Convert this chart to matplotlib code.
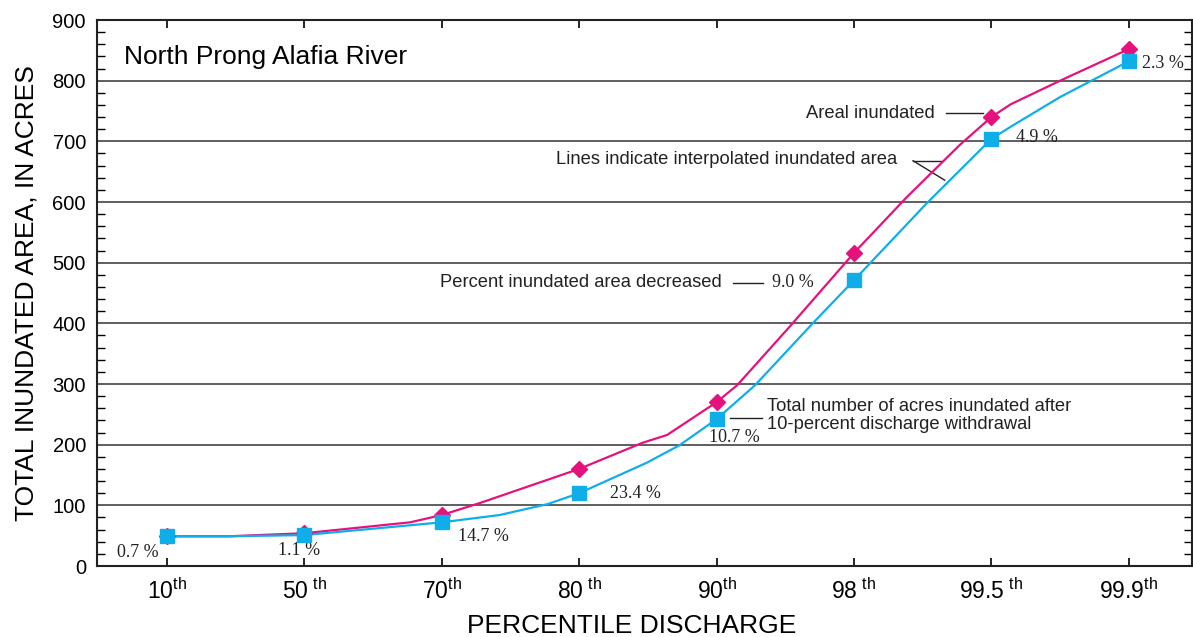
import matplotlib
matplotlib.use("Agg")
import matplotlib.pyplot as plt
from matplotlib.ticker import MultipleLocator

plt.rcParams['font.family'] = ['Liberation Sans', 'DejaVu Sans']
plt.rcParams['mathtext.fontset'] = 'custom'
plt.rcParams['mathtext.rm'] = 'Liberation Sans'

# ---- data ----
categories = ["10$^{\\rm th}$", "50$^{\\rm\\ th}$", "70$^{\\rm th}$", "80$^{\\rm\\ th}$",
              "90$^{\\rm th}$", "98$^{\\rm\\ th}$", "99.5$^{\\rm\\ th}$", "99.9$^{\\rm th}$"]
areal = [49, 54, 84, 160, 270, 516, 740, 852]
after = [49, 51, 72, 120, 242, 471, 704, 832]
pct_labels = ["0.7 %", "1.1 %", "14.7 %", "23.4 %", "10.7 %", "9.0 %", "4.9 %", "2.3 %"]

# interpolated curves (x in category-index units)
areal_curve_x = [0, 0.45, 1, 1.77, 2, 2.28, 3, 3.46, 3.64, 4, 4.15, 4.53, 5, 5.38, 5.77, 6, 6.14, 6.51, 7]
areal_curve_y = [49, 49, 54, 72, 84, 104, 160, 203, 216, 270, 298, 394, 516, 607, 694, 740, 761, 801, 852]
after_curve_x = [0, 0.45, 1, 2, 2.42, 2.77, 3, 3.49, 3.73, 4, 4.28, 4.70, 5, 5.53, 6, 6.14, 6.50, 7]
after_curve_y = [49, 49, 51, 72, 84, 102, 120, 170, 199, 242, 298, 400, 471, 598, 704, 724, 773, 832]

magenta = '#E5127D'
cyan = '#0FAEE8'

fig = plt.figure(figsize=(11.93, 6.37), dpi=100)
ax = fig.add_axes([97/1193, 1-566/637, (1192-97)/1193, (566-20)/637])

x = list(range(len(categories)))
ax.plot(areal_curve_x, areal_curve_y, color=magenta, lw=1.6, zorder=3)
ax.plot(after_curve_x, after_curve_y, color=cyan, lw=1.6, zorder=4)
ax.plot(x, areal, linestyle='none', marker='D', ms=8, color=magenta, zorder=5)
ax.plot(x, after, linestyle='none', marker='s', ms=9.5, color=cyan, zorder=6)

ax.set_xlim(-0.509, 7.46)
ax.set_ylim(0, 900)
ax.set_yticks(range(0, 901, 100))
ax.yaxis.set_minor_locator(MultipleLocator(20))
ax.set_xticks(x)
ax.set_xticklabels(categories, fontsize=16.5)
ax.tick_params(axis='y', labelsize=14.5, direction='in', length=0, pad=8)
ax.tick_params(axis='y', which='minor', direction='in', length=6, width=1, left=True, right=True)
ax.tick_params(axis='x', direction='in', length=6, width=1.2, top=True, bottom=True, pad=9)
for y in range(100, 900, 100):
    ax.axhline(y, color='#333333', lw=1.1, zorder=1)
for s in ax.spines.values():
    s.set_linewidth(1.5)
    s.set_color('#222222')

ax.set_ylabel("TOTAL INUNDATED AREA, IN ACRES", fontsize=19, labelpad=10)
ax.set_xlabel("PERCENTILE DISCHARGE", fontsize=19)
ax.xaxis.set_label_coords(0.488, -0.087)

ax.text(-0.31, 839, "North Prong Alafia River", fontsize=19, va='center', ha='left')

# percent labels
pct_pos = [(-0.21, 22, 'center'), (0.96, 26, 'center'), (2.3, 48, 'center'),
           (3.41, 120, 'center'), (4.13, 212, 'center'), (4.40, 467, 'left'),
           (6.33, 707, 'center'), (7.25, 828, 'center')]
serif = ['Liberation Serif', 'DejaVu Serif']
for (px, py, ha), lab in zip(pct_pos, pct_labels):
    ax.text(px, py, lab, fontsize=13, family=serif, ha=ha, va='center', color='#222222')

# annotations
ann_kw = dict(fontsize=13.2, va='center', color='#222222')
ax.text(5.59, 746, "Areal inundated", ha='right', **ann_kw)
ax.plot([5.67, 5.94], [746, 746], color='#222222', lw=1)
ax.text(5.315, 670, "Lines indicate interpolated inundated area", ha='right', **ann_kw)
ax.plot([5.43, 5.64], [668, 668], color='#222222', lw=1)
ax.plot([5.43, 5.66], [668, 636], color='#222222', lw=1)
ax.text(4.04, 467, "Percent inundated area decreased", ha='right', **ann_kw)
ax.plot([4.12, 4.34], [467, 467], color='#222222', lw=1)
ax.text(4.37, 263, "Total number of acres inundated after", ha='left', **ann_kw)
ax.text(4.37, 234, "10-percent discharge withdrawal", ha='left', **ann_kw)
ax.plot([4.1, 4.33], [244, 244], color='#222222', lw=1)

fig.savefig("out.png", dpi=100)
